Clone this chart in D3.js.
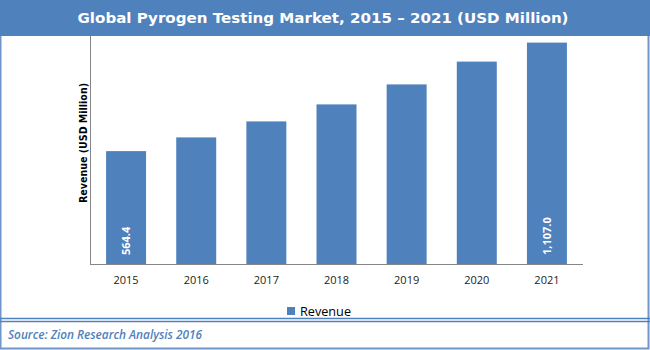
<!DOCTYPE html>
<html><head><meta charset="utf-8">
<script src="https://cdn.jsdelivr.net/npm/d3@7"></script>
<style>body{margin:0;background:#fff}svg{display:block}</style>
</head><body>
<svg id="c" width="650" height="350"></svg>
<script>
const years = ["2015","2016","2017","2018","2019","2020","2021"];
const revenue = [564.4, 633, 713, 798, 898, 1012, 1107.0];
const labelShown = [true, false, false, false, false, false, true];
const title = "Global Pyrogen Testing Market, 2015 \u2013 2021 (USD Million)";
const yTitle = "Revenue (USD Million)";
const seriesName = "Revenue";
const source = "Source: Zion Research Analysis 2016";

const blue = "#4f81bd";
const svg = d3.select("#c");

// frame
svg.append("rect").attr("x",0.5).attr("y",0.5).attr("width",648).attr("height",348)
  .attr("fill","none").attr("stroke","#6f96c8").attr("stroke-width",2);
// title bar
svg.append("rect").attr("x",0).attr("y",0).attr("width",650).attr("height",36).attr("fill",blue);
svg.append("text").attr("x",323).attr("y",23).attr("text-anchor","middle")
  .attr("fill","#fff").attr("font-family","DejaVu Sans").attr("font-weight","bold")
  .attr("font-size",14.5).attr("textLength",491).attr("lengthAdjust","spacingAndGlyphs")
  .text(title);

const x = d3.scaleBand().domain(years).range([91,582]).paddingInner(0.43).paddingOuter(0.215);
const y = d3.scaleLinear().domain([0,1140]).range([264,36]);

// bars
svg.selectAll("rect.bar").data(years).enter().append("rect").attr("class","bar")
  .attr("x",d=>x(d)).attr("width",x.bandwidth())
  .attr("y",(d,i)=>y(revenue[i])).attr("height",(d,i)=>y(0)-y(revenue[i]))
  .attr("fill",blue);

// axes
svg.append("line").attr("x1",90.5).attr("x2",90.5).attr("y1",36).attr("y2",264.5)
  .attr("stroke","#868686").attr("stroke-width",1);
const xa = svg.append("g").attr("transform","translate(0,264.5)")
  .call(d3.axisBottom(x).tickSize(0).tickPadding(12));
xa.select(".domain").attr("stroke","#868686").attr("d","M90,0H583");
xa.selectAll("text").attr("font-family","Open Sans, Liberation Sans").attr("font-size",11).attr("fill","#222");

// data labels
years.forEach((yr,i)=>{
  if(!labelShown[i]) return;
  const cx = x(yr)+x.bandwidth()/2;
  svg.append("text").attr("transform",`translate(${cx+4},255) rotate(-90)`)
    .attr("fill","#fff").attr("font-family","Open Sans, Liberation Sans").attr("font-weight","bold")
    .attr("font-size",11).text(d3.format(",.1f")(revenue[i]));
});

// y title
svg.append("text").attr("transform","translate(87,143) rotate(-90)").attr("text-anchor","middle")
  .attr("font-family","DejaVu Sans").attr("font-weight","bold").attr("font-size",10.5)
  .attr("textLength",120).attr("lengthAdjust","spacingAndGlyphs").attr("fill","#000").text(yTitle);

// legend
svg.append("rect").attr("x",287).attr("y",307).attr("width",8).attr("height",8).attr("fill",blue);
svg.append("text").attr("x",300).attr("y",315.5).attr("font-family","Open Sans, Liberation Sans")
  .attr("font-size",12).attr("textLength",51).attr("lengthAdjust","spacingAndGlyphs").attr("fill","#000").text(seriesName);

// double separator
svg.append("line").attr("x1",0).attr("x2",650).attr("y1",318.5).attr("y2",318.5).attr("stroke","#4f81bd").attr("stroke-width",1.5);
svg.append("line").attr("x1",0).attr("x2",650).attr("y1",321.5).attr("y2",321.5).attr("stroke","#4f81bd").attr("stroke-width",1.5);

// source
svg.append("text").attr("x",8).attr("y",339).attr("font-family","Open Sans, Liberation Sans")
  .attr("font-style","italic").attr("font-weight","600").attr("font-size",12)
  .attr("textLength",194).attr("lengthAdjust","spacingAndGlyphs").attr("fill","#4f81bd").text(source);
</script>
</body></html>
